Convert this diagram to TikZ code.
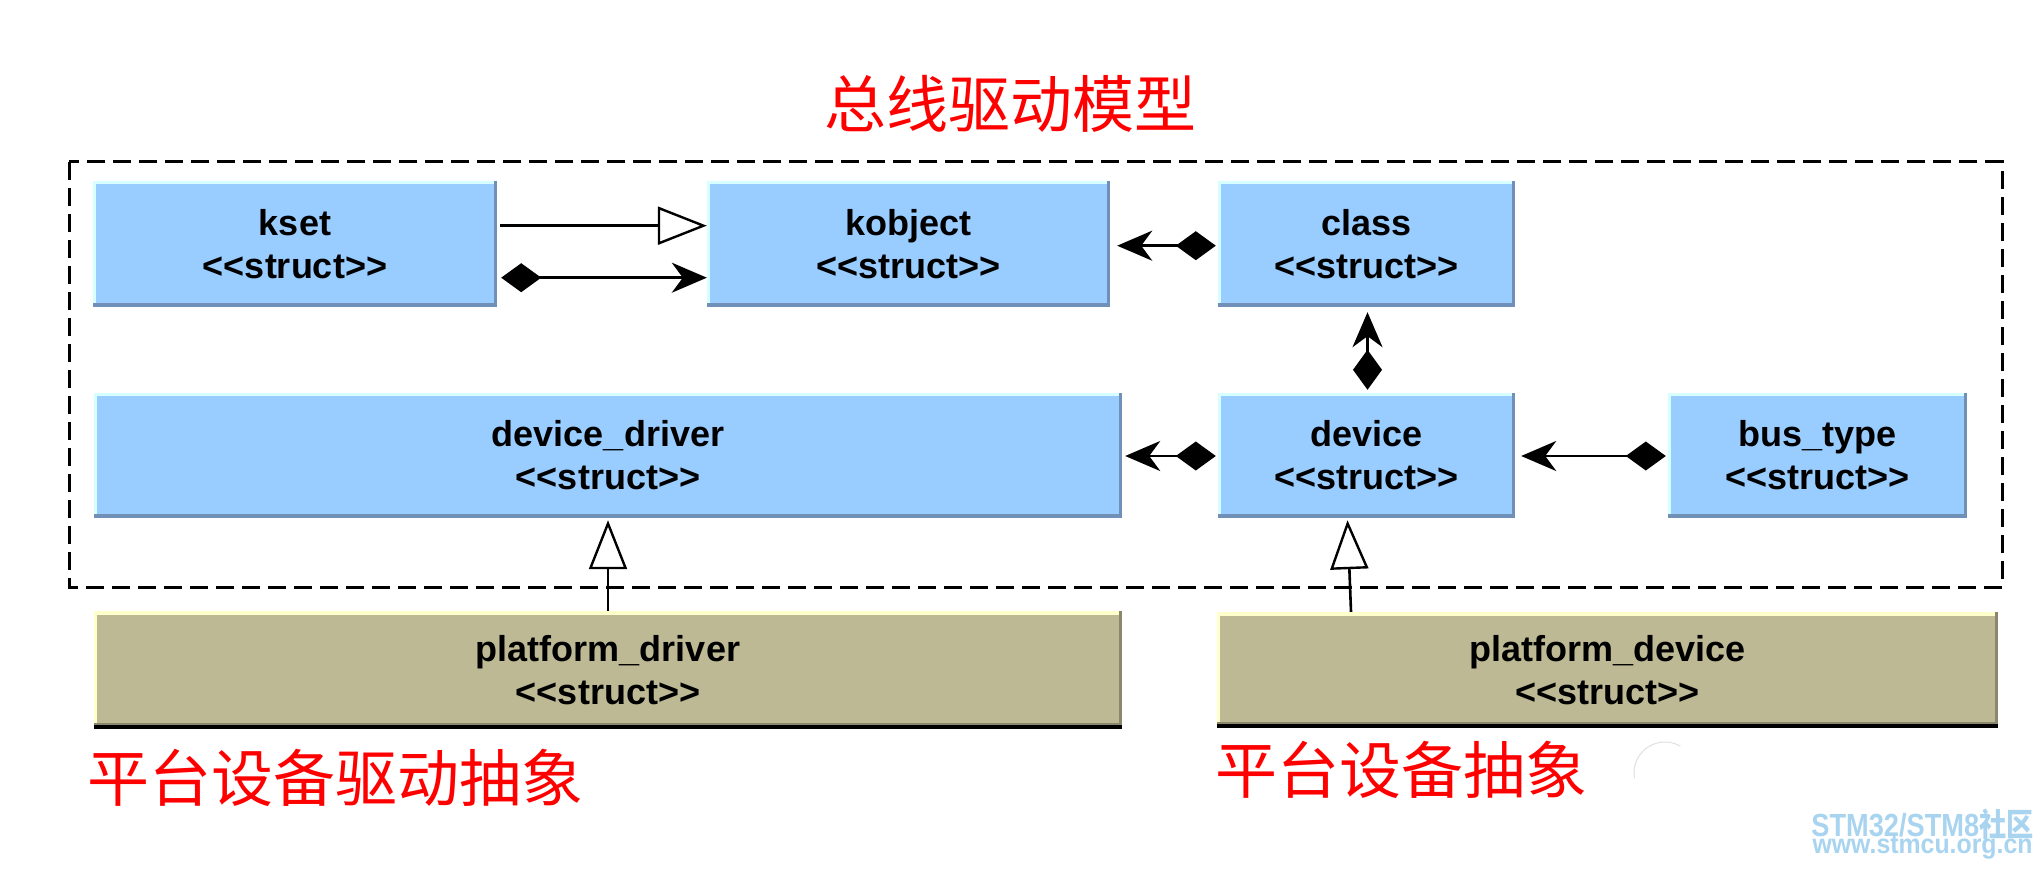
\documentclass[tikz,border=0pt]{standalone}
\usepackage{fontspec}
\newfontfamily\labfont{Liberation Sans}
\newfontfamily\cjkfont{Noto Sans CJK SC}
\usetikzlibrary{arrows.meta}
\definecolor{boxblue}{HTML}{99CCFF}
\definecolor{bluelite}{HTML}{D8FFFF}
\definecolor{bluedark}{HTML}{7090B8}
\definecolor{khaki}{HTML}{BDB994}
\definecolor{khakilite}{HTML}{FFFFCC}
\definecolor{khakidark}{HTML}{8A876C}
\definecolor{wmblue}{HTML}{A8D4F0}
\tikzset{
  lbl/.style={font=\labfont\bfseries\fontsize{36}{43}\selectfont, align=center, text=black, inner sep=0pt},
  bbox/.style={lbl, fill=boxblue,
    path picture={
      \fill[bluelite] (path picture bounding box.north west) rectangle ([yshift=-3pt]path picture bounding box.north east);
      \fill[bluelite] (path picture bounding box.north west) rectangle ([xshift=3pt]path picture bounding box.south west);
      \fill[bluedark] ([xshift=-3pt]path picture bounding box.north east) rectangle (path picture bounding box.south east);
      \fill[bluedark] ([yshift=4pt]path picture bounding box.south west) rectangle (path picture bounding box.south east);
    }},
  kbox/.style={lbl, fill=khaki,
    path picture={
      \fill[khakilite] (path picture bounding box.north west) rectangle ([yshift=-4pt]path picture bounding box.north east);
      \fill[khakilite] (path picture bounding box.north west) rectangle ([xshift=3pt]path picture bounding box.south west);
      \fill[khakidark] ([xshift=-3pt]path picture bounding box.north east) rectangle (path picture bounding box.south east);
      \fill[khakidark] ([yshift=6pt]path picture bounding box.south west) rectangle (path picture bounding box.south east);
      \fill[black] ([yshift=4pt]path picture bounding box.south west) rectangle (path picture bounding box.south east);
    }},
  conn/.style={line width=2.6pt, draw=black},
  comp/.style={conn, {Diamond[length=40pt,width=29pt]}-{Stealth[length=35pt,width=30pt,inset=11pt]}},
  gen/.style={conn, -{Triangle[length=49pt,width=38pt,fill=white,line width=2.4pt]}},
  cjk/.style={font=\cjkfont\fontsize{62}{62}\selectfont, text=red, inner sep=0pt},
  wm/.style={text=wmblue, inner sep=0pt, anchor=base},
}
\begin{document}
\begin{tikzpicture}[x=1pt,y=-1pt]
\useasboundingbox[fill=white] (0,0) rectangle (2044,869);

% dashed frame
\draw[line width=3pt, dash pattern=on 18pt off 8pt] (69,162) rectangle (2002,587);

% boxes
\node[bbox, minimum width=404pt, minimum height=126pt] (kset) at (295,244) {kset\\<<struct>>};
\node[bbox, minimum width=403pt, minimum height=126pt] (kobject) at (908.5,244) {kobject\\<<struct>>};
\node[bbox, minimum width=297pt, minimum height=126pt] (class) at (1366.5,244) {class\\<<struct>>};
\node[bbox, minimum width=1028pt, minimum height=125pt] (ddrv) at (608,455.5) {device\_driver\\<<struct>>};
\node[bbox, minimum width=297pt, minimum height=125pt] (device) at (1366.5,455.5) {device\\<<struct>>};
\node[bbox, minimum width=299pt, minimum height=125pt] (bus) at (1817.5,455.5) {bus\_type\\<<struct>>};
\node[kbox, minimum width=1028pt, minimum height=118pt] (pdrv) at (608,670) {platform\_driver\\<<struct>>};
\node[kbox, minimum width=781pt, minimum height=116pt] (pdev) at (1607.5,670) {platform\_device\\<<struct>>};

% connectors
\draw[gen] ([xshift=3pt,yshift=18.3pt]kset.east) -- ([yshift=18.3pt]kobject.west);
\draw[comp] ([xshift=4pt,yshift=-33.7pt]kset.east) -- ([yshift=-33.7pt]kobject.west);
\draw[comp] ([xshift=-2pt,yshift=-1.7pt]class.west) -- ([xshift=7pt,yshift=-1.7pt]kobject.east);
\draw[comp] ([xshift=1pt,yshift=3pt]device.north) -- ([xshift=1pt,yshift=-5pt]class.south);
\draw[comp] ([xshift=-2pt,yshift=-0.5pt]device.west) -- ([xshift=3pt,yshift=-0.5pt]ddrv.east);
\draw[comp] ([xshift=-2pt,yshift=-0.5pt]bus.west) -- ([xshift=6pt,yshift=-0.5pt]device.east);
\draw[gen] (pdrv.north) -- ([yshift=-2pt]ddrv.south);
\draw[gen] ([xshift=-256.5pt]pdev.north) -- ([xshift=-19pt,yshift=-2pt]device.south);

% captions
\node[cjk] (title) at (1010.5,104) {总线驱动模型};
\node[cjk] (capa) at (335.5,777.5) {平台设备驱动抽象};
\node[cjk] (capb) at (1401,770) {平台设备抽象};

% faint arc
\draw[black!12, line width=1pt] (1665,773) ++(170:31) arc[start angle=170, end angle=300, radius=31];

% watermark
\node[wm, font=\labfont\bfseries\fontsize{32}{32}\selectfont] (wm1) at (1922.5,836) {\scalebox{0.85}[1]{STM32/STM8{\cjkfont 社区}}};
\node[wm, font=\labfont\bfseries\fontsize{27}{27}\selectfont] (wm2) at (1922.5,853) {\scalebox{0.92}[1]{www.stmcu.org.cn}};
\end{tikzpicture}
\end{document}
